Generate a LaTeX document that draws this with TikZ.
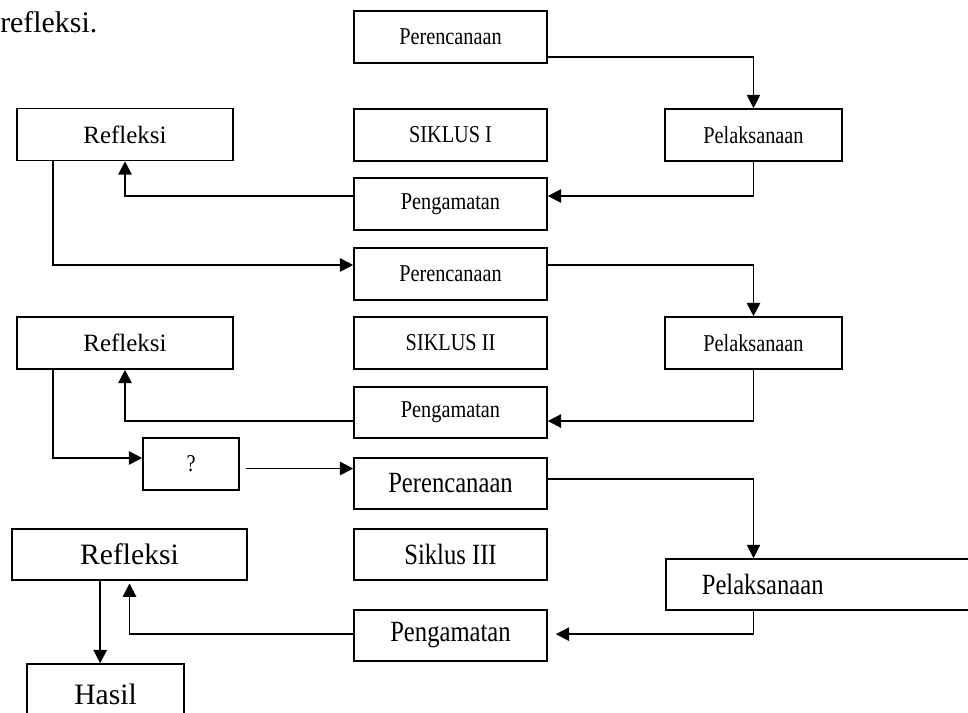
\documentclass[tikz,border=0pt]{standalone}
\usepackage{fontspec}
\setmainfont{Liberation Serif}
\newfontfamily\sempit[FakeStretch=0.84]{Liberation Serif}
\usetikzlibrary{arrows.meta,positioning}

\begin{document}
\begin{tikzpicture}[x=0.75pt,y=-0.75pt,
  box/.style={draw,line width=1.2pt,align=center,minimum width=144.75pt,
    minimum height=39pt,inner sep=0pt,font=\sempit\fontsize{18.1pt}{21pt}\selectfont},
  big/.style={font=\sempit\fontsize{22pt}{26pt}\selectfont},
  arr/.style={-{Triangle[length=10pt,width=10pt]},line width=1.4pt},
  tarr/.style={-{Triangle[length=10pt,width=10pt]},line width=0.8pt}
]
  \useasboundingbox (0,0) rectangle (968,713);
  \node[anchor=base west,inner sep=0pt,font=\fontsize{22.4pt}{26pt}\selectfont] (ket) at (0,33) {refleksi.};

  % siklus I
  \node[box] (per1) at (450.5,37) {Perencanaan};
  \node[box] (sik1) at (450.5,135) {SIKLUS I};
  \node[box,minimum width=132.75pt] (pel1) at (753.5,135) {Pelaksanaan};
  \node[box] (pen1) at (450.5,204) {Pengamatan};
  \node[box,minimum width=162pt,font=\fontsize{18.7pt}{22pt}\selectfont] (ref1) at (125,134.5) {Refleksi};
  \draw[tarr] ([yshift=-15pt]per1.east) -| (pel1);
  \draw[arr] (pel1) |- ([yshift=6pt]pen1.east);
  \draw[arr] ([yshift=6pt]pen1.west) -| (ref1);

  % siklus II
  \node[box] (per2) at (450.5,274) {Perencanaan};
  \node[box] (sik2) at (450.5,343) {SIKLUS II};
  \node[box,minimum width=132.75pt] (pel2) at (753.5,343) {Pelaksanaan};
  \node[box,minimum height=38.25pt] (pen2) at (450.5,412.5) {Pengamatan};
  \node[box,minimum width=162pt,font=\fontsize{18.7pt}{22pt}\selectfont] (ref2) at (125,343) {Refleksi};
  \draw[arr] ([xshift=-54pt]ref1.south) |- ([yshift=6.75pt]per2.west);
  \draw[arr] ([yshift=6.75pt]per2.east) -| (pel2);
  \draw[arr] (pel2) |- ([yshift=-6.4pt]pen2.east);
  \draw[arr] ([yshift=-6.4pt]pen2.west) -| (ref2);

  \node[box,minimum width=72pt] (tanya) at (191,464) {?};
  \draw[arr] ([xshift=-54pt]ref2.south) |- ([yshift=4.5pt]tanya.west);

  % siklus III
  \node[box,big,minimum height=38.25pt] (per3) at (450.5,483.5) {Perencanaan};
  \node[box,big,minimum height=38.25pt] (sik3) at (450.5,554.5) {Siklus III};
  \node[box,big,anchor=west,inner xsep=27pt,text width=178.5pt,align=left,
    minimum height=38.25pt] (pel3) at (665,584.5) {Pelaksanaan};
  \node[box,big,minimum height=38.25pt] (pen3) at (450.5,635.5) {Pengamatan};
  \node[box,minimum width=176.25pt,minimum height=38.25pt,
    font=\fontsize{22.2pt}{26pt}\selectfont] (ref3) at (129.5,554.5) {Refleksi};
  \node[box,minimum width=117.75pt,minimum height=45pt,
    font=\fontsize{22.2pt}{26pt}\selectfont] (hasil) at (105.5,694) {Hasil};
  \draw[arr,shorten <=5pt] ([yshift=-3.4pt]tanya.east) -- ([yshift=-3.4pt]tanya.east -| per3.west);
  \draw[tarr] ([yshift=3.4pt]per3.east) -| (pel3.north -| pel2);
  \draw[arr,shorten >=6pt] (pel3.south -| pel2) |- ([yshift=1pt]pen3.east);
  \draw[arr,shorten >=2pt] ([yshift=1pt]pen3.west) -| (ref3);
  \draw[arr] ([xshift=-22pt]ref3.south) -- ([xshift=-22pt]ref3.south |- hasil.north);
\end{tikzpicture}
\end{document}
